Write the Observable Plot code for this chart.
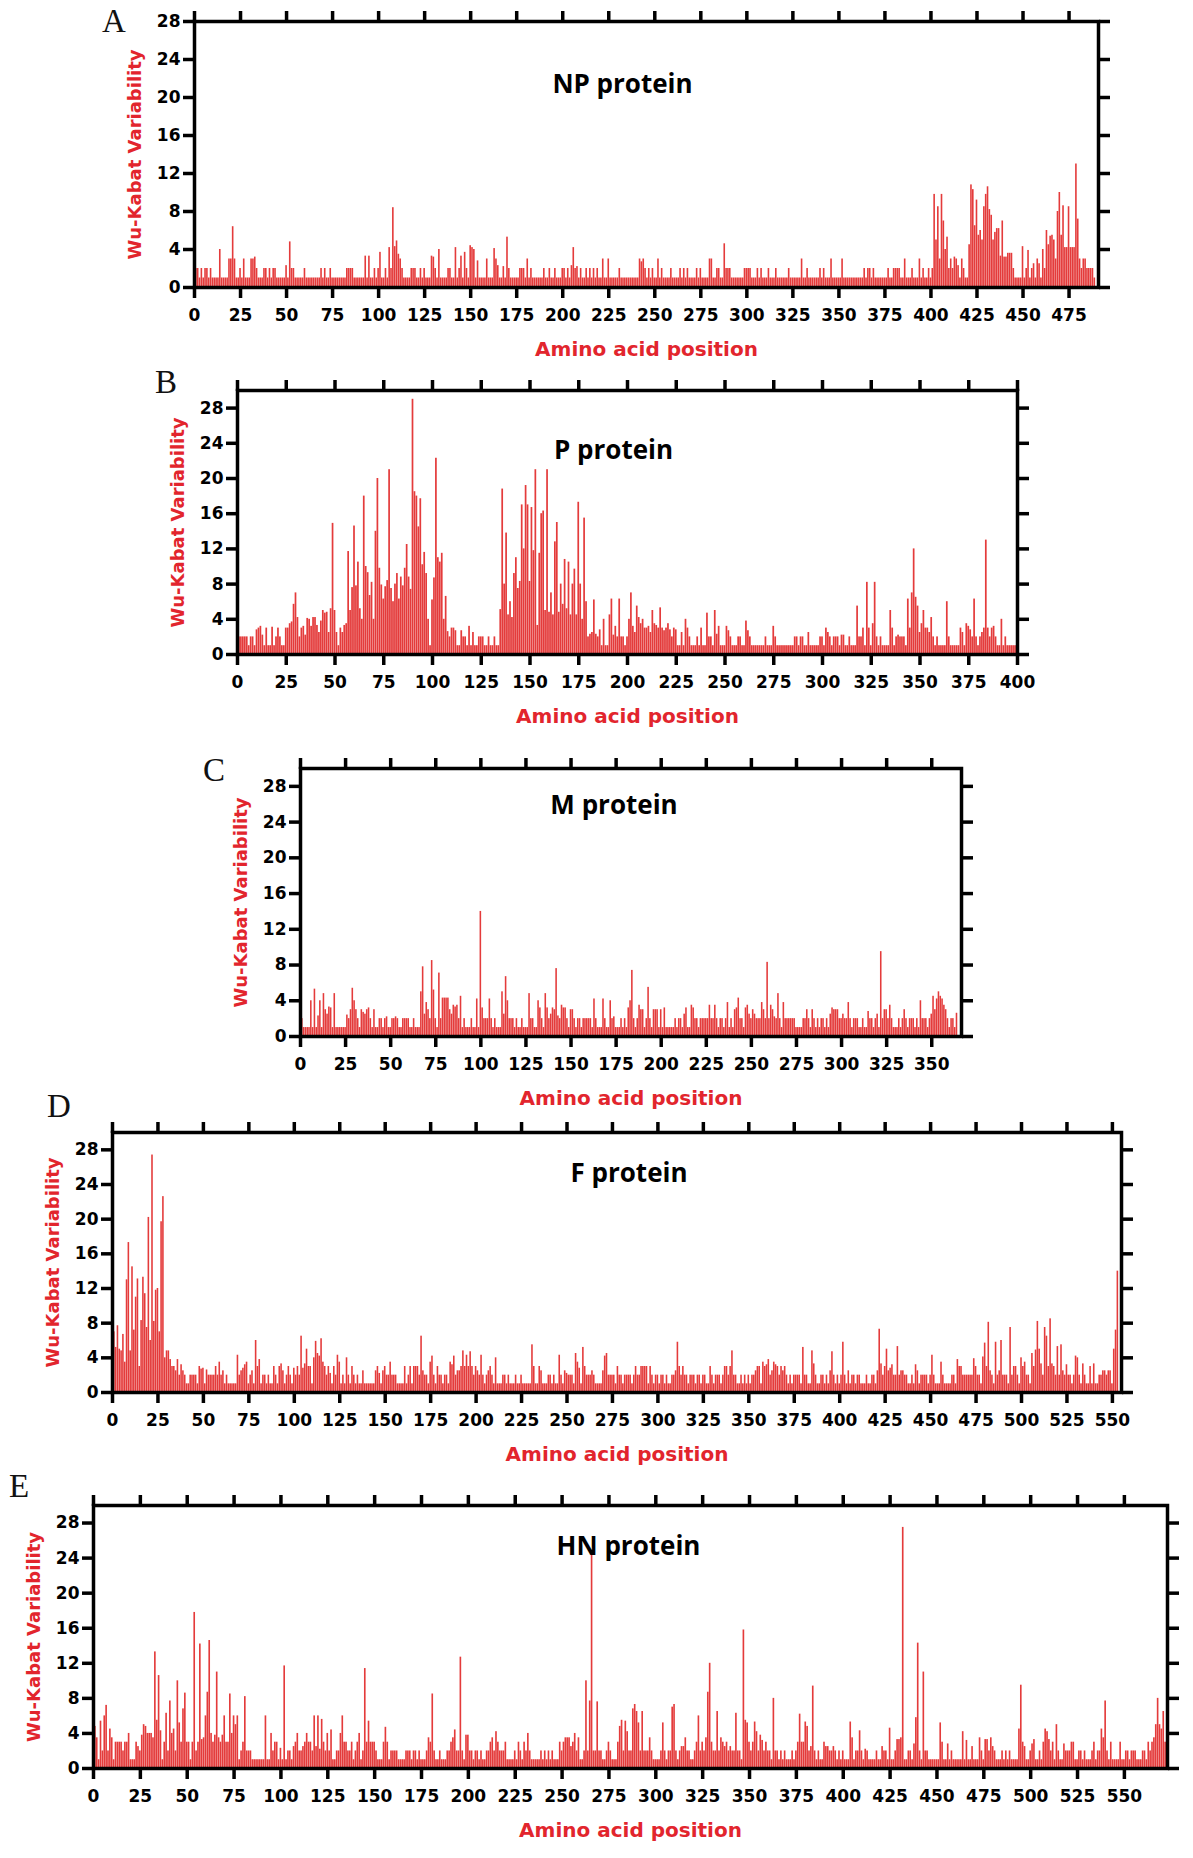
<!DOCTYPE html>
<html><head><meta charset="utf-8">
<script src="https://cdn.jsdelivr.net/npm/d3@7"></script>
<script src="https://cdn.jsdelivr.net/npm/@observablehq/plot@0.6"></script>
<style>
html,body{margin:0;padding:0;background:#fff;}
#fig{position:relative;width:1193px;height:1858px;background:#fff;overflow:hidden;}
#fig svg.panel{position:absolute;}
#fig svg.overlay{position:absolute;left:0;top:0;pointer-events:none;}
</style></head><body><div id="fig"></div>
<script>
// ---------- Data (Wu-Kabat variability per amino-acid position) ----------
const npValues = [
2,2,1,2,1,2,2,1,2,1,1,1,1,4,1,1,1,1,3,3,6.4,3,1,1,2,
1,3,1,1,1,3,3,3.2,2,1,1,1,2,2,1,2,1,2,2,1,1,1,1,1,2.3,
1,4.8,2,2,1,1,1,1,1,2,1,1,1,1,1,1,1,1,2,1,2,1,1,2,1,
1,1,1,1,1,1,1,2,2,2,2,1,1,1,1,1,1,3.3,1,3.3,1,1,2,1,2,
3.7,1,1,2,1,4.2,2,8.4,4.3,4.9,3.5,3,2,1,1,1,1,2,2,2,1,1,2,1,2,
1,1,1,3.3,3.2,2,1,4,1,1,1,1,2,2,1,1,4.2,1,2,3.3,1,3.7,2,1,4.4,
4.2,4,1,2.8,1,1,1,1,3,1,1,1,4.1,3,2.3,1,1,2.2,1,5.3,2,1,1,1,1,
1,2,2,2,1,3,1,2,1,1,1,1,1,1,2,1,1,2,1,1,2,1,1,1,2,
2,1,2,1,2.3,4.2,2,2.2,1,2,1,1,2,1,2,1,2,1,2,1,1,3,1,1,3,
1,1,1,1,1,2,1,1,1,1,1,1,1,1,1,1,3,2.7,3,2,1,2,1,2,1,
1,3,1,2,1,1,1,1,2,1,1,1,1,2,1,2,1,2,1,1,1,1,2,1,2,
1,1,1,1,3,3,1,1,2,2,1,1,4.6,2,2,2,1,1,1,1,1,1,1,2,2,
2,2,1,1,1,2,1,2,1,1,1,2,1,1,1,2,1,1,1,1,1,1,2,1,1,
1,1,1,1,3,1,1,2,1,1,1,1,1,1,2,1,2,1,1,1,3,1,1,1,1,
1,3,1,1,1,1,1,1,1,1,1,1,1,2,1,2,2,1,2,1,1,1,1,1,1,
1,2,1,1,2,2,2,2,1,1,3,1,1,1,2,1,1,1,3,1,2,1,1,2,1,
2,9.8,5,8.5,3,9.8,7,4,5.3,2,3,2,3.2,3,2.3,1,3,2,1,1,4.5,10.8,10.3,6.5,9.2,
5.5,6,5,8.5,9.8,10.6,8.2,7.6,5,5.8,6.2,6.2,3.3,7,3.2,3.2,3.6,3.6,3.6,2,1,1,1,1,4.3,
1,2,3.9,1,2,2.5,1,3,2.5,1,4,2,6,4.5,5.4,5.5,5,3,8,10,5.5,8.6,4.2,4.2,8.5,
4.2,4.2,4.2,13,7.2,3,2,3,3,2,2,2,2,1
];
const pValues = [
2,2,2,2,2,1,2,2,1,2.8,3,3.2,2.2,1,3,1,1,3.1,1,2,3,2,1,1,3,
3,3.5,3.7,5.7,7,4.2,2,3,3.2,2.2,4.1,4,3.2,4.2,4.2,3.3,2.5,3.8,5,4.7,4.8,2.5,5.2,14.9,5,
2.5,1,3,2.5,3.3,3.5,11.7,5,7.6,14.6,7.8,10.5,5.2,4,18,10,9.3,6.7,8.2,4,14,20,9.8,7.9,6.3,
7.7,8.4,21,7.5,6,8,9.2,6.3,8.8,7.8,9.8,12.5,8.8,7.4,29,18.5,18,14.5,17.7,10.2,11.6,9.2,4,1,6.2,
8.7,22.3,11,10.5,11.5,4,6.6,2.6,2,3,3,2.7,1,1,2.7,2,2,1,3.2,1,2.5,1,1,2,2,
2,1,1,2,1,1,2,1,1,5.1,18.8,8,13.8,4.5,6,4.2,9.2,11,7.5,8.3,17,12,19.2,17,8.3,
16.7,11.8,21,3.3,11.5,16,16.3,5,21,4.8,7,4.5,12.8,15,4.8,8,5.7,10.8,5.2,10.5,4.5,8,9.7,4.5,17.3,
8,4,15.5,6,2,2.3,2.5,6.2,2.3,2,2.8,1,4,1,1,4.5,6.3,2.2,3.2,2,6.3,2,2,1,2,
4,7,3.2,2.5,5.5,4.2,3.5,4,3,3,3.2,2.5,5,3.5,3.3,3,5.3,3,2.7,3,3.5,2.8,2,3,2.8,
1,1,2.5,1,4,3,2,1,1,1,2,1,3,1,1,4.7,2,2,1,5,2.3,3.2,1,1,1,
3.2,2.7,2,1,1,1,2,2,1,1,3.8,2.7,2,1,1,1,1,1,1,1,2,1,1,1,3.2,
2,1,1,1,1,1,1,1,1,1,2,2,1,2,2,1,1,2.5,1,1,1,1,1,2,2,
1,3,2.5,2,1,2,2,2,1,2.2,2.2,1,1,2,1,1,1,5.5,2,2,3,1,8.2,3,1,
3.5,8.2,2,1,2,1,1,1,1,5,3,1,2,2.2,2,2,2,1,6.3,3,7,12,6.5,5.5,2.5,
3.5,5,3,3,2.5,4.2,2,1,2,1,1,1,1,6,2,1,1,1,1,1,3,2.5,1,3.5,3.2,
2.8,2,6.3,2,1,2,2.5,3,13,3,2,3,3.2,2,1,1,4,1,2,1,1,1,1,1
];
const mValues = [
2,1,1,1,1,4,1,5.3,1,2.3,4,1,4.8,3,2.5,3.3,3.2,1,4.8,1,1,1,1,1,1,
2.4,2,3,5.4,4,3,2,1,3,2.7,2.5,3,3.2,2,1,3,1,1,2,2,1,2,2.2,1,1,
2,2,2.2,2,1,1,2,2,2,2,1,1,2,1,1,1,5,7.8,2.5,3.8,3,2,8.5,5.2,2,
1,7.1,2,4.3,4.3,4.3,4.3,3,2.5,3.5,3.3,3.5,2,4.5,1,2,1,1,1,2,1,1,4.2,1,14,
3.2,2,2,2,4.2,2,1,2,1,1,1,5,2.5,6.7,4,2,2,2,1,2,1,1,2,1,1,
1,4.8,2,2,1,1,4,3.2,2,1,4.8,3.2,2,2.5,3.2,3,7.6,2.3,2,3.5,3.2,3.2,2,1,3,
3,2,1,2,2,1,2,2,2,2,2,1,4.2,2,1,1,1,4.2,2,1,1,4,2,2.2,1,
1,1,2,1,2,1,3.2,4,7.4,2,1,2,3.5,3,3,1,2,5.5,2,1,3,3,3,1,3,
1,3.2,1,1,1,1,1,2,1,2,2,1,2.5,3.2,1,1,3.5,3.2,2,2,1,2,2,2,2,
2,3.5,2,2,3.5,2,1,2,2,1,2,3.8,1,2,1,3,3.2,4.3,2,2,1,3.2,3.5,2.5,2,
3,2.5,2,2,2,3.8,3,2,8.3,2,3.5,3,2.2,2,4.8,2,1,3.8,2,2,2,2,2,2,1,
1,1,1,2,2,3,2,1,3,2,1,2,1,2,2,1,2,1,2.5,3.2,3,3,3,2,2,
2.5,2,2,3.8,2,1,2,2,2,1,1,2,1,1,2.8,2,2,1,2,2.5,1,9.5,2,3,3,
2,3.5,2,1,1,1,2,1,2,3,2,1,2,2,2,1,2,1,4,2,2,2,1,2,2.5,
4.5,3,4.2,5,4.5,4.2,3.5,3,2,1,2,2,1,2.6
];
const fValues = [
7,5.2,7.7,5,4.8,6.7,3.5,13,17.3,4.8,14.5,7.2,11,13.1,3,8.3,13.3,11.4,7.5,20.2,6,27.4,8.2,11.8,12,
7,19.7,22.6,4,4.8,4.8,3.8,3,3,2.5,3.8,2,3.2,2.5,2,1,1,2,2,2,2,1,3,2.7,2.8,
1,2.6,2,2,2,2,3,2,3.5,2,2.5,1,2,1,1,1,1,1,4.3,2,2.5,2.8,3.2,3.5,1,
2,2.5,1,6,3,3.8,1,2,2,1,2,1,1,3,2,1,3,3.3,2.5,1,2,3,2,1,2.8,
2,3,2,6.5,2.8,3.3,5,3,3,1,4,5.9,4.5,4.2,6.2,3.5,3,2,3,2.2,1,3,2,4.3,3.5,
1,2,1,4,2,1,3,2,1,2,1,1,2.5,1,1,1,1,1,1,2.5,3,2.2,1,2.5,3,
2,2,3.5,2,2,2,1,1,1,1,3,1,2,3,1,3,3,3,2,6.5,2.5,2,2,1,3.5,
4.2,2,1,3,2,2,1,2,2,1,3.5,3.2,4.2,2,2.5,2.5,3,4.8,3,4.3,3,4.7,3,2,3,
2.5,2,4.3,2,1,2,2.5,3,2,1,4,1,1,1,2,2,1,2,1,1,1,2,1,1,2,
1,1,1,1,1,5.5,3,1,1,3,2.5,1,1,1,2,2,1,2,1,1,4.3,2,1,2.5,2.2,
2,2,2,1,4.5,3.5,2.8,1,5.2,3,2,2,2,2.5,2,1,1,1,1,2.5,4.2,4.5,2,2,2,
2,1,3,2,2,1,2,2,2,2,1,2,3,2,2,3,3,3,3,1,3,2,1,2,2,
1,2,2,1,2,1,1,2,2,2.5,5.8,3,2,3,2,2,1,2,2,2,1,2,2,1,2,
2,1,1,3,2,1,2,2,2,1,2,3,3,2,3,4.8,2,2,1,1,2,1,2,1,2,
1,2,2,2.5,3,3,1,3.5,3,3.2,3.8,2,2.5,3.5,3.2,3,2,3,2.5,3,2,1,2,1,2,
2,2,2,1,5.2,2,2,1,1,4.8,3.3,2,1,1,2,2,1,2,1,2.5,4.7,2,1,2,1,
2,5.8,2,1,2.5,1,2,2,1,2,2,1,1,1,2,1,1,2,2,1,2.5,7.3,3.3,2,3,
5,2.5,2.8,3.2,2,2,5.3,2,2.5,2.5,2,2,1,1,2,1,3.2,2.5,1,2,2,2,2,1,2,
4.3,2,1,1,1,3.5,2,1,1,1,1,2,2,1,3.8,3,3,2,2,2,2,2,2,3.9,3,
2,2,1,4.1,5.7,3,8.1,2.5,2,1,5.8,2,2.5,6,2,2,2,1,7.5,2,3,3,2,1,4,
3,3.5,2,2,1,4.5,3,4.9,8.2,5,3.3,2,7.5,6.5,3,8.5,3.3,3,2,5.3,2,5.5,2.5,2,3.2,
2,2,1,2,4.2,4,2,1,3.3,2,1,1,3,1,3.3,1,1,2,2,2.5,2.5,2,2.5,2.5,1,
5,7.2,14
];
const hnValues = [
4.8,3.5,1,5.4,2,6,7.2,2,4.5,3.5,1,3,3,3,3,2,3,3,4,1,1,1,3,2.5,2,
3.8,5,4.8,4,4,4,3.5,13.3,5.5,10.6,4.3,1,3,6.3,2,7.7,4,4.5,2,10,5.2,3,6.8,8.6,3,
3,1,3,17.8,2,3,14.2,3.3,3.5,6,8.7,14.6,4,3,3.8,11,3.5,3,3.8,6,3,3,8.5,4,6,
5,6,1,2,3,8.2,2,2,2,1,1,1,1,1,1,1,6,1,1,4,2,3,3,1,2.3,
1,11.7,1,2,2,1,2.5,3,4,2,2,2.5,3,4,3,3,2,6,2.5,6,2.2,5.6,3,2,4,
2,4.4,1,1,2,2,4,6,3,3,2,2,3,1,2,3,4,1,2,11.4,3,5.4,3,3,3,
2,1,1,1,3,4.7,3,1,2,2,2,2,1,1,1,1,2,2,2,1,2,2,1,2,1,
1,1,2,3.5,3,8.5,2,1,1,2,1,1,1,2,2,3,3.5,4.4,2,2,12.7,2,1,3.8,3.8,
2,2,1,2,2,1,2,1,1,2,2,3,3.5,2,4.2,3,2,2,2,3,1,1,1,1,2,
1,3,2,1,3,2,4,2,1,1,1,1,1,2,1,2,1,2,1,2,1,1,1,3,2,
3,3.5,3.5,3.5,2.5,3,4,2,3.5,1,1,2,10,2,7.7,24.5,2,2,7.6,2,2,1,1,2,3,
2,1,1,1,3,4.8,5.5,2,5.4,4.2,2,2,6.8,7.3,6.5,5.2,2,6.5,2,2,2,3.5,2,1,1,
1,1,2,5.2,2,1,2,2,7,7.3,2,1,2,2.5,2.5,3.5,2,2,1,1,2,3,6,2,3,
2,3.5,8.7,12,3,2,2,6.5,2,3.5,3,2.5,3,2,2.5,2,2,6.3,2,2,1,15.8,5.5,5.2,3,
2,3,5.3,4.2,2,3.8,3.2,2,3,2,2,1,8,2,2,1,2,1,2,1,1,1,2,1,2,
3,6.2,3,3,5.3,4.8,2,2.5,9.4,2,1,2,1,1,3,2.5,2.5,2,2,2.5,2,1,2,1,2,
1,1,1,5.3,3.5,1,2,2,4.3,2,1,2.2,2,1,1,1,1,2,1,1,2.5,2,2,1,4.6,
1,1,2,3.3,3.3,3.5,27.5,1,1,2,2,1,2.8,5.8,14.3,2,1,11,2,2,1,1,1,1,1,
1,5.2,3,1,1,2.8,1,2,1,1,1,1,1,4.2,1,3.2,1,1,2.5,1,1,1,3.5,2,1,
3.3,3.3,2,3.5,2.5,2,1,1,1,2,1,2,1,2,1,1,1,1,4.5,9.5,3,2.5,1,1,2,
2.8,3.3,1,1,2,1,3,4.5,4.2,3.3,2,3,1,5,2,1,1,2.8,2,2,2,3,3,1,1,
2,2,1,2,1,1,1,2,3,1,2,2,4.5,3.5,7.7,2,1,3,1,1,1,1,3,1,1,
2,2,1,2,2,2,1,1,1,2,2,1,3,2,3,3.5,5,8,5,4.5,6.5,3
];

// tick values / labels
const yTicks = [0, 4, 8, 12, 16, 20, 24, 28];
const npTicks = [0,25,50,75,100,125,150,175,200,225,250,275,300,325,350,375,400,425,450,475];
const pTicks = [0,25,50,75,100,125,150,175,200,225,250,275,300,325,350,375,400];
const mTicks = [0,25,50,75,100,125,150,175,200,225,250,275,300,325,350];
const fTicks = [0,25,50,75,100,125,150,175,200,225,250,275,300,325,350,375,400,425,450,475,500,525,550];
const hnTicks = [0,25,50,75,100,125,150,175,200,225,250,275,300,325,350,375,400,425,450,475,500,525,550];
const panelTitles = ["NP protein", "P protein", "M protein", "F protein", "HN protein"];
const panelLetters = ["A", "B", "C", "D", "E"];
const xLabel = "Amino acid position";
const yLabel = "Wu-Kabat Variability";

// ---------- Layout ----------
const RED = "#e2252d";
const BAR = "#e43b3b";
const FONT = "DejaVu Sans, Liberation Sans, sans-serif";
const panels = [
  {values: npValues, ticks: npTicks, xmax: 491,   ymax: 28, L: 194, R: 1098, T: 21,   B: 287,  tdx: -24, tdy: 63},
  {values: pValues,  ticks: pTicks,  xmax: 400,   ymax: 30, L: 237, R: 1017, T: 390,  B: 654,  tdx: -14, tdy: 60},
  {values: mValues,  ticks: mTicks,  xmax: 366.5, ymax: 30, L: 300, R: 961,  T: 768,  B: 1036, tdx: -17, tdy: 37},
  {values: fValues,  ticks: fTicks,  xmax: 555,   ymax: 30, L: 112, R: 1121, T: 1132, B: 1392, tdx: 12,  tdy: 41},
  {values: hnValues, ticks: hnTicks, xmax: 573,   ymax: 30, L: 93,  R: 1167, T: 1505, B: 1768, tdx: -2,  tdy: 41}
];
const letterPos = [[114, 32], [166, 393], [214, 781], [59, 1117], [19, 1497]];

const fig = document.getElementById("fig");
const mL = 90, mR = 24, mT = 18, mB = 80;

panels.forEach((p, i) => {
  const data = p.values.map((v, j) => ({pos: j + 1, v}));
  const svg = Plot.plot({
    width: (p.R - p.L) + mL + mR,
    height: (p.B - p.T) + mT + mB,
    marginLeft: mL, marginRight: mR, marginTop: mT, marginBottom: mB,
    style: {background: "none", overflow: "visible", color: "#000"},
    x: {domain: [0, p.xmax], label: null},
    y: {domain: [0, p.ymax], label: null},
    marks: [
      Plot.rectY(data, {x1: d => d.pos - 0.5, x2: d => d.pos + 0.5, y: "v", fill: BAR, insetLeft: 0.12, insetRight: 0.12}),
      Plot.frame({stroke: "#000", strokeWidth: 3.5}),
      Plot.axisX({anchor: "bottom", ticks: p.ticks, tickSize: 11, tickPadding: 10, strokeWidth: 3.5,
        fontSize: 17, fontWeight: "bold", fontFamily: FONT, label: null}),
      Plot.axisX({anchor: "top", ticks: p.ticks, tickSize: 11, strokeWidth: 3.5, tickFormat: () => "", label: null}),
      Plot.axisY({anchor: "left", ticks: yTicks, tickSize: 11, tickPadding: 3, strokeWidth: 3.5,
        fontSize: 17, fontWeight: "bold", fontFamily: FONT, label: null}),
      Plot.axisY({anchor: "right", ticks: yTicks, tickSize: 11, strokeWidth: 3.5, tickFormat: () => "", label: null}),
      Plot.text([panelTitles[i]], {frameAnchor: "top", textAnchor: "middle", lineAnchor: "middle", dx: p.tdx, dy: p.tdy,
        fontSize: 26, fontWeight: "bold", fontFamily: "Open Sans, sans-serif", fill: "#000"}),
      Plot.text([xLabel], {frameAnchor: "bottom", textAnchor: "middle", lineAnchor: "middle", dy: 62,
        fill: RED, fontSize: 20, fontWeight: "bold", fontFamily: FONT}),
      Plot.text([yLabel], {frameAnchor: "left", textAnchor: "middle", lineAnchor: "middle", dx: -59, rotate: -90,
        fill: RED, fontSize: 18, fontWeight: "bold", fontFamily: FONT})
    ]
  });
  svg.classList.add("panel");
  svg.style.left = (p.L - mL) + "px";
  svg.style.top = (p.T - mT) + "px";
  fig.appendChild(svg);
});

// panel letters
const overlay = d3.select(fig).append("svg").attr("class", "overlay").attr("width", 1193).attr("height", 1858);
overlay.selectAll("text").data(panelLetters).join("text")
  .attr("x", (d, i) => letterPos[i][0])
  .attr("y", (d, i) => letterPos[i][1])
  .attr("text-anchor", "middle")
  .attr("font-family", "Liberation Serif, Times New Roman, serif")
  .attr("font-size", 33)
  .attr("fill", "#111")
  .text(d => d);
</script></body></html>
